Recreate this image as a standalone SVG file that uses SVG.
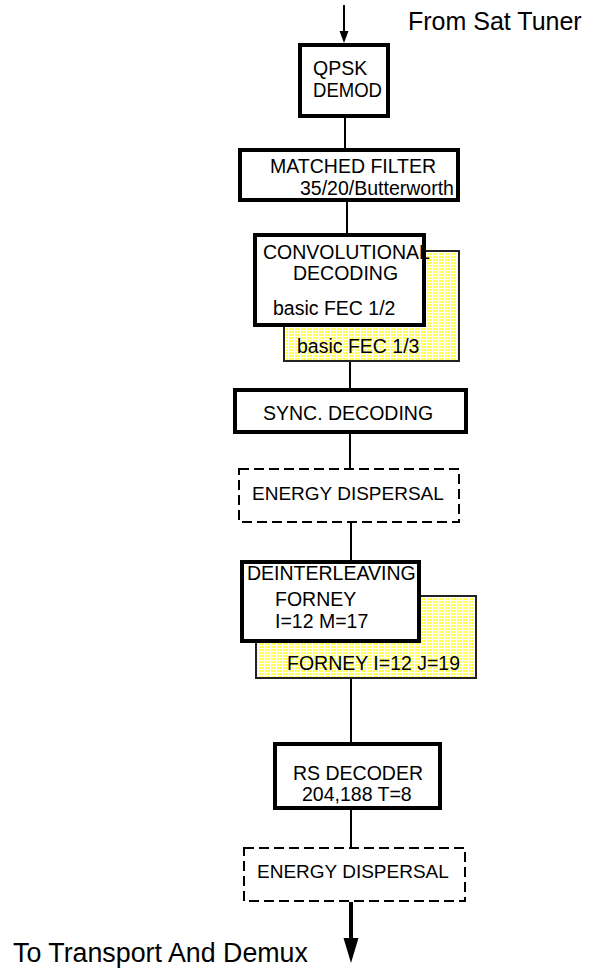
<svg xmlns="http://www.w3.org/2000/svg" width="593" height="970" viewBox="0 0 593 970">
<style>
text{font-family:"Liberation Sans",Arial,sans-serif;fill:#000}
.t{font-size:19.5px}
.e{font-size:19px}
.big{font-size:25px}
.box{fill:#fff;stroke:#000;stroke-width:4}
.alt{fill:url(#chk);stroke:#222;stroke-width:2}
.dash{fill:#fff;stroke:#000;stroke-width:2;stroke-dasharray:10 5}
.ln{stroke:#000;stroke-width:2;fill:none}
</style>
<defs>
<pattern id="chk" width="3" height="3" patternUnits="userSpaceOnUse">
<rect width="3" height="3" fill="#ffff50"/>
<rect width="1" height="3" fill="#fff"/>
<rect width="3" height="1" fill="#fff"/>
</pattern>
</defs>
<g id="connectors">
<line class="ln" x1="344" y1="5" x2="344" y2="32"/>
<path d="M339.5,31 L348.5,31 L344,43 Z" fill="#000"/>
<line class="ln" x1="345" y1="118" x2="345" y2="148"/>
<line class="ln" x1="347" y1="202" x2="347" y2="233"/>
<line class="ln" x1="350" y1="362" x2="350" y2="388"/>
<line class="ln" x1="350" y1="434" x2="350" y2="468"/>
<line class="ln" x1="351" y1="523" x2="351" y2="560"/>
<line class="ln" x1="351" y1="674" x2="351" y2="742"/>
<line class="ln" x1="351" y1="810" x2="351" y2="847"/>
<line x1="351" y1="902" x2="351" y2="940" stroke="#000" stroke-width="4"/>
<path d="M343.5,938 L358.5,938 L351,963 Z" fill="#000"/>
</g>
<g id="label-from"><text class="big" x="408" y="30">From Sat Tuner</text></g>
<g id="qpsk">
<rect class="box" x="300" y="45" width="88" height="71"/>
<text class="t" x="313" y="75">QPSK</text>
<text class="t" x="313" y="97" textLength="69" lengthAdjust="spacingAndGlyphs">DEMOD</text>
</g>
<g id="matched">
<rect class="box" x="240" y="150" width="218" height="50"/>
<text class="t" x="270" y="173">MATCHED FILTER</text>
<text class="t" x="300" y="195">35/20/Butterworth</text>
</g>
<g id="fec13">
<rect class="alt" x="284" y="251" width="175" height="110"/>
<text class="t" x="297" y="353">basic FEC 1/3</text>
</g>
<g id="conv">
<rect class="box" x="255" y="235" width="169" height="90"/>
<text class="t" x="263" y="259">CONVOLUTIONAL</text>
<text class="t" x="293" y="280">DECODING</text>
<text class="t" x="273" y="315">basic FEC 1/2</text>
</g>
<g id="sync">
<rect class="box" x="235" y="390" width="231" height="42"/>
<text class="t" x="263" y="420">SYNC. DECODING</text>
</g>
<g id="energy1">
<rect class="dash" x="239" y="469" width="220" height="53"/>
<text class="e" x="252" y="500">ENERGY DISPERSAL</text>
</g>
<g id="forney2">
<rect class="alt" x="256" y="596" width="220" height="82"/>
<text class="t" x="287" y="670">FORNEY I=12 J=19</text>
</g>
<g id="deint">
<rect class="box" x="242" y="562" width="177" height="79"/>
<text class="t" x="247" y="580">DEINTERLEAVING</text>
<text class="t" x="275" y="606">FORNEY</text>
<text class="t" x="275" y="628">I=12 M=17</text>
</g>
<g id="rs">
<rect class="box" x="275" y="744" width="165" height="64"/>
<text class="t" x="293" y="780">RS DECODER</text>
<text class="t" x="302" y="801">204,188 T=8</text>
</g>
<g id="energy2">
<rect class="dash" x="244" y="848" width="221" height="53"/>
<text class="e" x="257" y="878">ENERGY DISPERSAL</text>
</g>
<g id="label-to"><text x="13" y="962" font-size="26.8">To Transport And Demux</text></g>
</svg>
